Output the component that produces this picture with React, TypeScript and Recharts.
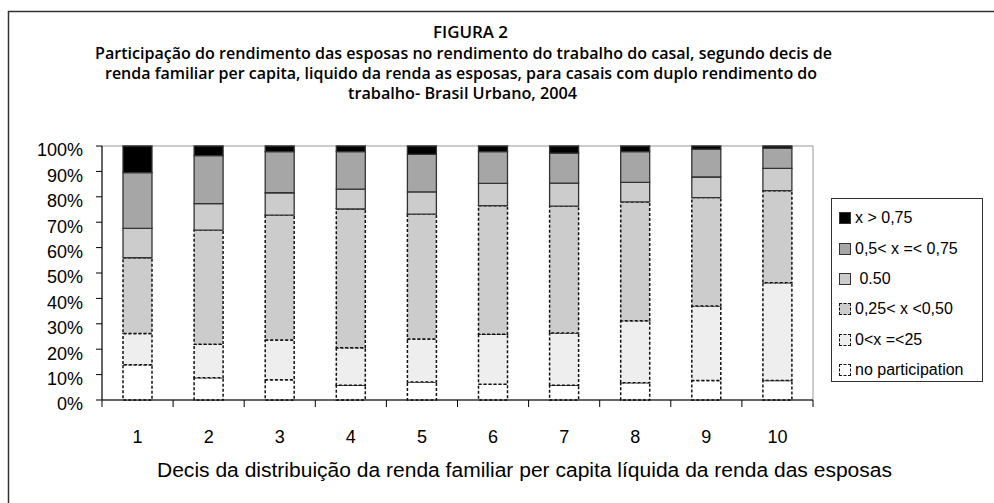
import { BarChart, Bar, XAxis, YAxis, ReferenceArea } from 'recharts';

const deciles = ['1', '2', '3', '4', '5', '6', '7', '8', '9', '10'];
const noPart = [13.9, 8.8, 8.0, 5.8, 7.1, 6.2, 5.8, 6.8, 7.7, 7.7];
const zeroTo25 = [12.3, 13.1, 15.6, 14.8, 16.9, 19.7, 20.6, 24.4, 29.3, 38.5];
const q25to50 = [29.8, 45.0, 49.2, 54.6, 49.2, 50.6, 49.9, 46.8, 42.7, 36.2];
const half = [11.6, 10.4, 8.8, 7.8, 8.7, 8.8, 9.1, 7.7, 8.1, 8.8];
const q50to75 = [21.9, 18.9, 16.2, 14.8, 14.8, 12.5, 11.8, 12.1, 11.0, 8.0];
const over75 = [10.5, 3.8, 2.2, 2.2, 3.3, 2.2, 2.8, 2.2, 1.2, 0.8];

const yTicks = [0, 10, 20, 30, 40, 50, 60, 70, 80, 90, 100];

const titleLines = [
  'FIGURA 2',
  'Participação do rendimento das esposas no rendimento do  trabalho do casal, segundo decis de',
  'renda familiar per capita, liquido da renda as esposas, para casais com duplo rendimento do',
  'trabalho-  Brasil Urbano, 2004'
];
const xTitle = 'Decis da distribuição da  renda familiar per capita líquida da renda das esposas';

const series = [
  { key: 'noPart', name: 'no participation', fill: '#ffffff', dashed: true },
  { key: 'zeroTo25', name: '0<x =<25', fill: '#eeeeee', dashed: true },
  { key: 'q25to50', name: '0,25< x <0,50', fill: '#cccccc', dashed: true },
  { key: 'half', name: ' 0.50', fill: '#cccccc', dashed: false },
  { key: 'q50to75', name: '0,5< x =< 0,75', fill: '#a6a6a6', dashed: false },
  { key: 'over75', name: 'x > 0,75', fill: '#000000', dashed: false }
];

const data = deciles.map((d, i) => ({
  decil: d,
  noPart: noPart[i],
  zeroTo25: zeroTo25[i],
  q25to50: q25to50[i],
  half: half[i],
  q50to75: q50to75[i],
  over75: over75[i]
}));

const font = '"Liberation Sans", Arial, sans-serif';
const titleFont = '"Open Sans", "Noto Sans", sans-serif';

const W = 994;
const H = 503;
const margin = { top: 146, right: 181, bottom: 43, left: 42 };
const yAxisWidth = 60;
const plotWidth = W - margin.left - margin.right - yAxisWidth;
const band = plotWidth / deciles.length;
const labelGap = 30;

// title line placement (start x, width, baseline)
const titleLayout = [
  { x: 433, w: 75, y: 38 },
  { x: 95, w: 737, y: 59 },
  { x: 105, w: 712, y: 79 },
  { x: 348, w: 229, y: 99 }
];

// category label plus tick marks on the category boundaries
function DecileTick(props: any) {
  const { x, y, payload, index } = props;
  const axisY = y - labelGap;
  return (
    <g>
      <line x1={x - band / 2} x2={x - band / 2} y1={axisY} y2={axisY + 7} stroke="#000" />
      {index === deciles.length - 1 && (
        <line x1={x + band / 2} x2={x + band / 2} y1={axisY} y2={axisY + 7} stroke="#000" />
      )}
      <text x={x} y={y} dy="0.71em" textAnchor="middle" fill="#000" fontSize={18} fontFamily={font}>
        {payload.value}
      </text>
    </g>
  );
}

export default function App() {
  return (
    <div style={{ position: 'absolute', left: 0, top: 0, width: W, height: H, background: '#fff' }}>
      <BarChart width={W} height={H} data={data} margin={margin} barSize={29}>
        <ReferenceArea y1={0} y2={100} fill="none" stroke="#999" strokeWidth={1} ifOverflow="visible" />
        <YAxis
          domain={[0, 100]}
          ticks={yTicks}
          interval={0}
          width={yAxisWidth}
          tickFormatter={(v: number) => `${v}%`}
          axisLine={{ stroke: '#000' }}
          tickLine={{ stroke: '#000' }}
          tickSize={6}
          tickMargin={13}
          tick={{ fill: '#000', fontSize: 18, fontFamily: font, dy: 4 }}
        />
        <XAxis
          dataKey="decil"
          height={60}
          interval={0}
          axisLine={{ stroke: '#000' }}
          tickLine={false}
          tickSize={0}
          tickMargin={labelGap}
          tick={<DecileTick />}
        />
        {series.map(s => (
          <Bar
            key={s.key}
            dataKey={s.key}
            name={s.name}
            stackId="a"
            fill={s.fill}
            stroke={s.dashed ? '#111' : '#333'}
            strokeWidth={s.dashed ? 1.5 : 1.3}
            strokeDasharray={s.dashed ? '3 2' : undefined}
            isAnimationActive={false}
          />
        ))}
      </BarChart>

      <svg width={W} height={H} style={{ position: 'absolute', left: 0, top: 0, pointerEvents: 'none' }}>
        <polyline points="8.5,503 8.5,11.5 994,11.5" fill="none" stroke="#333" strokeWidth={1.5} />
        {titleLines.map((t, i) => (
          <text
            key={i}
            x={titleLayout[i].x}
            y={titleLayout[i].y}
            fontFamily={titleFont}
            fontWeight={600}
            fontSize={16}
            textLength={titleLayout[i].w}
            lengthAdjust="spacingAndGlyphs"
            fill="#000"
          >
            {t}
          </text>
        ))}
        <text x={157} y={477} fontFamily={font} fontSize={20} textLength={735} lengthAdjust="spacingAndGlyphs" fill="#000">
          {xTitle}
        </text>
      </svg>

      <div
        style={{
          position: 'absolute',
          left: 831,
          top: 198,
          width: 152,
          height: 184,
          border: '1px solid #333',
          boxSizing: 'border-box',
          background: '#fff',
          fontFamily: font,
          fontSize: 16,
          color: '#000',
          paddingTop: 4
        }}
      >
        {[...series].reverse().map(s => (
          <div key={s.key} style={{ display: 'flex', alignItems: 'center', height: 30.4, paddingLeft: 7 }}>
            <span
              style={{
                display: 'inline-block',
                width: 10,
                height: 10,
                background: s.fill,
                border: s.dashed ? '1px dashed #111' : '1px solid #333',
                marginRight: 4,
                flexShrink: 0
              }}
            />
            <span style={{ whiteSpace: 'pre' }}>{s.name}</span>
          </div>
        ))}
      </div>
    </div>
  );
}
